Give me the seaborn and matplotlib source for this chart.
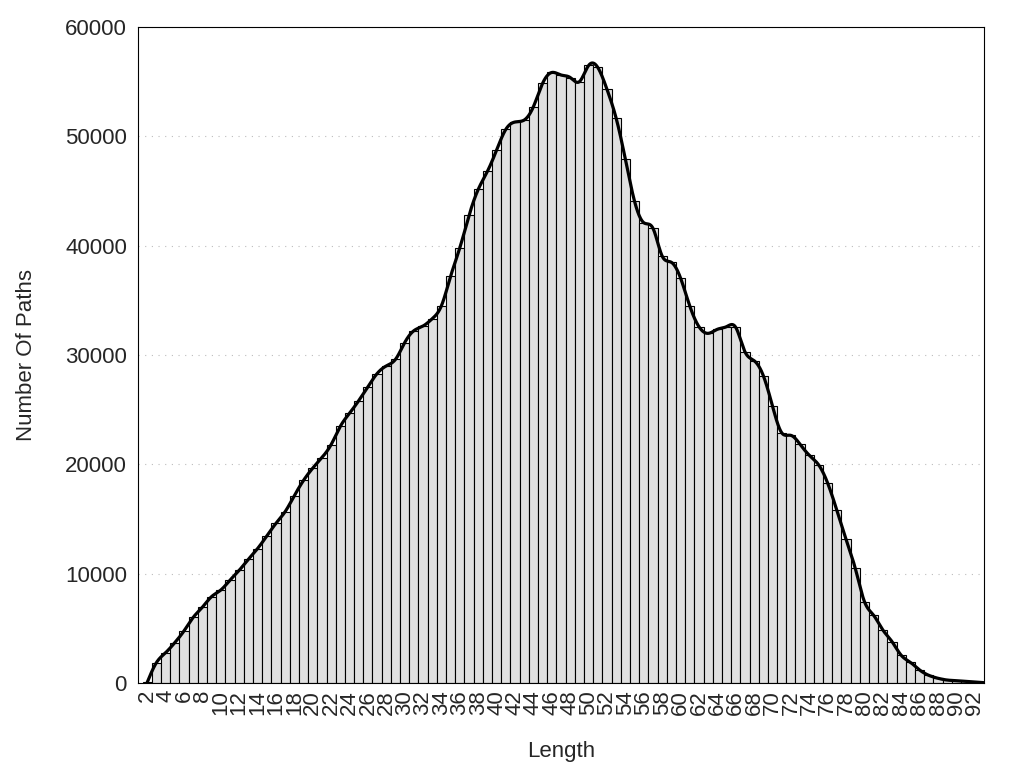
import numpy as np
import matplotlib
matplotlib.use("Agg")
import matplotlib.pyplot as plt
import matplotlib.transforms as mtransforms
import seaborn as sns

# path counts per length
lengths = list(range(2, 94))
paths = [
    50, 1860, 2770, 3690, 4760, 6000, 6930, 7900, 8500, 9400,
    10300, 11310, 12290, 13440, 14600, 15670, 17130, 18530, 19650, 20620,
    21800, 23470, 24670, 25820, 27100, 28300, 29000, 29600, 31130, 32220,
    32650, 33320, 34510, 37220, 39810, 42770, 45150, 46800, 48750, 50640,
    51310, 51490, 52710, 54850, 55840, 55610, 55380, 55000, 56480, 56300,
    54300, 51650, 47900, 44050, 42100, 41590, 39050, 38480, 37040, 34490,
    32590, 31980, 32350, 32590, 32530, 30300, 29480, 28110, 25330, 22890,
    22650, 21830, 20830, 19970, 18280, 15790, 13140, 10490, 7440, 6190,
    4850, 3780, 2530, 1890, 1190, 700, 430, 270, 210, 150,
    90, 30,
]
x_labels = list(range(2, 93, 2))
y_ticks = [0, 10000, 20000, 30000, 40000, 50000, 60000]


def natural_spline(x, y, xs):
    # natural cubic spline, like gnuplot's "smooth csplines"
    x = np.asarray(x, float)
    y = np.asarray(y, float)
    n = len(x)
    h = np.diff(x)
    A = np.zeros((n, n))
    b = np.zeros(n)
    A[0, 0] = A[-1, -1] = 1
    for i in range(1, n - 1):
        A[i, i - 1] = h[i - 1]
        A[i, i] = 2 * (h[i - 1] + h[i])
        A[i, i + 1] = h[i]
        b[i] = 6 * ((y[i + 1] - y[i]) / h[i] - (y[i] - y[i - 1]) / h[i - 1])
    m = np.linalg.solve(A, b)
    idx = np.clip(np.searchsorted(x, xs) - 1, 0, n - 2)
    x0, x1 = x[idx], x[idx + 1]
    hh = x1 - x0
    t0, t1 = x1 - xs, xs - x0
    return (m[idx] * t0 ** 3 / (6 * hh) + m[idx + 1] * t1 ** 3 / (6 * hh)
            + (y[idx] / hh - m[idx] * hh / 6) * t0
            + (y[idx + 1] / hh - m[idx + 1] * hh / 6) * t1)


sns.set_style("white")
plt.rcParams["font.family"] = ["Liberation Sans", "DejaVu Sans"]
plt.rcParams["font.size"] = 16

fig = plt.figure(figsize=(10.24, 7.68), dpi=100)
ax = fig.add_axes([138 / 1024, 1 - 683 / 768, (984 - 138) / 1024, (683 - 27) / 768])

sns.histplot(x=lengths, weights=paths, discrete=True, color="#e0e0e0",
             edgecolor="black", linewidth=0.8, alpha=1, ax=ax)

xs = np.linspace(lengths[0], lengths[-1], 3000)
ax.plot(xs, natural_spline(lengths, paths, xs), color="black", lw=2.3,
        zorder=3, solid_capstyle="round")

ax.set_xlim(1, 93)
ax.set_ylim(0, 60000)
ax.set_axisbelow(True)
ax.yaxis.grid(True, color="#bdbdbd", linestyle=(0, (1, 5)), linewidth=0.8)
ax.xaxis.grid(False)

ax.set_xticks(lengths[:-1])
ax.set_xticklabels([str(v) if v in x_labels else "" for v in lengths[:-1]],
                   rotation=90, ha="center")
# gnuplot spreads the rotated labels a little wider than the ticks
for v, lab in zip(lengths[:-1], ax.get_xticklabels()):
    off = mtransforms.ScaledTranslation((v - 20) * 0.07 / 100, 0, fig.dpi_scale_trans)
    lab.set_transform(lab.get_transform() + off)

ax.set_yticks(y_ticks)
ax.set_yticklabels([str(v) for v in y_ticks])
ax.tick_params(axis="both", direction="in", length=7.7, width=0.8,
               color="black", labelsize=16)
ax.tick_params(axis="x", pad=5)
ax.tick_params(axis="y", pad=8)

for s in ax.spines.values():
    s.set_color("black")
    s.set_linewidth(0.8)

ax.set_xlabel("Length", fontsize=16, labelpad=19)
ax.set_ylabel("Number Of Paths", fontsize=16, labelpad=20)

fig.savefig("out.png", dpi=100)
